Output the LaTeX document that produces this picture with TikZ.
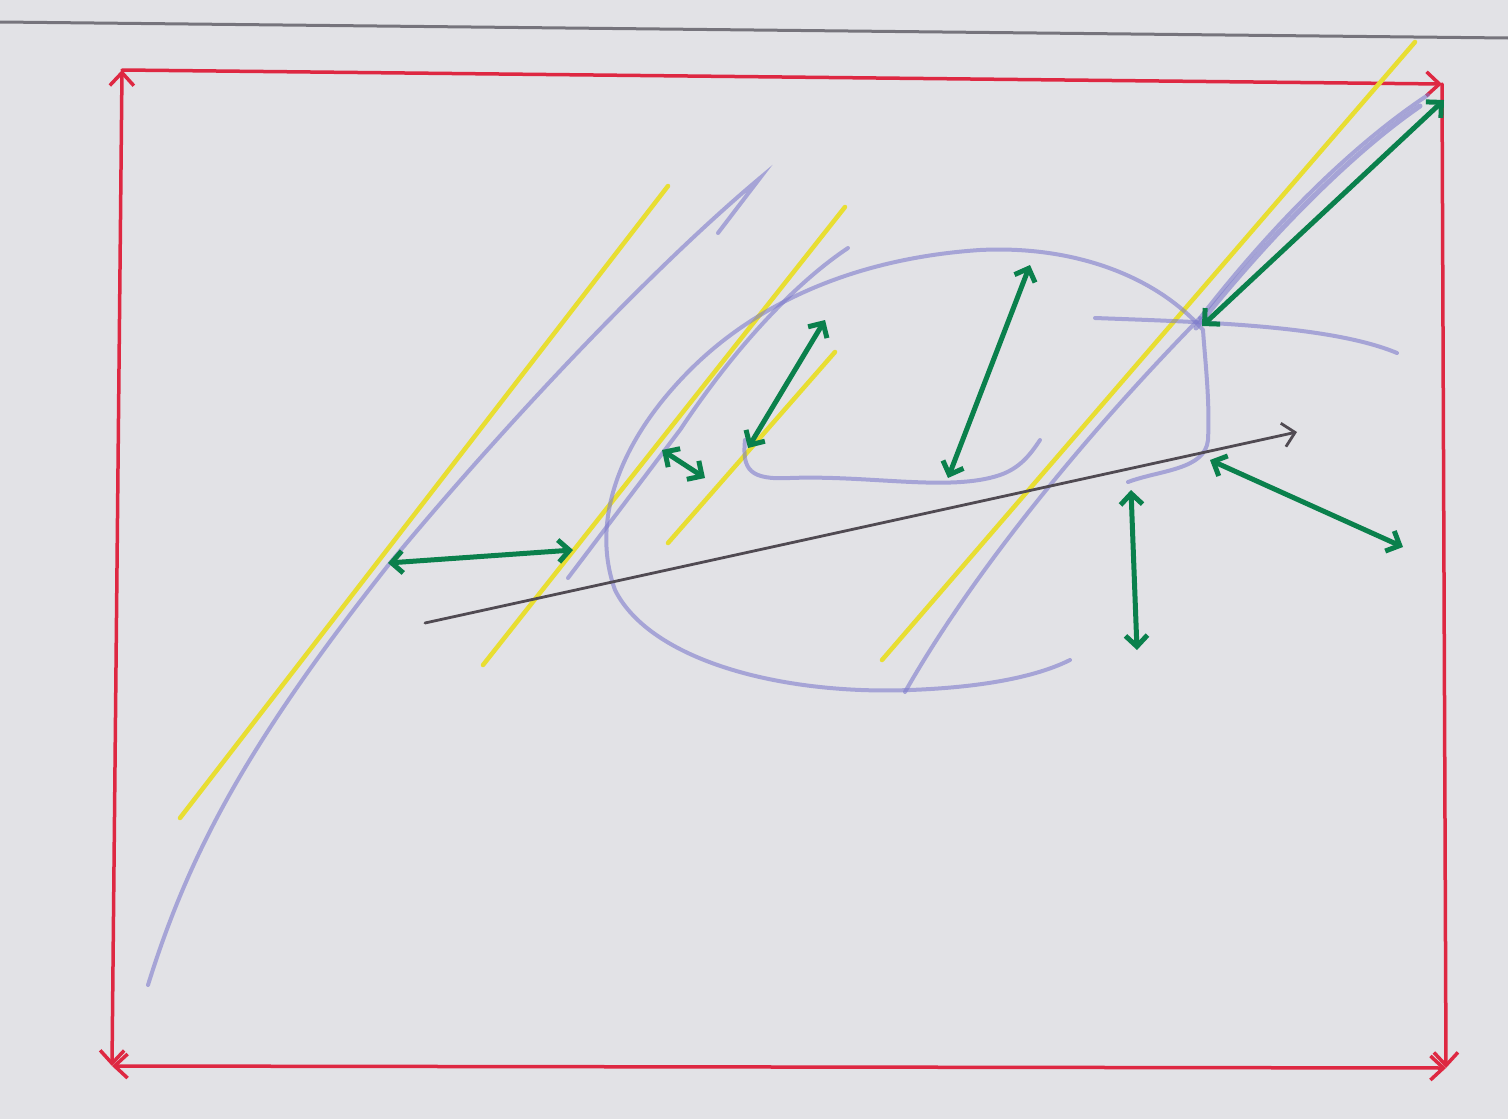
\documentclass[tikz,border=0pt]{standalone}
\usepackage{tikz}
\usetikzlibrary{arrows.meta}
\definecolor{paperGray}{RGB}{226,226,230}
\definecolor{edgeGray}{RGB}{118,116,124}
\definecolor{frameRed}{RGB}{222,40,66}
\definecolor{markYellow}{RGB}{232,222,50}
\definecolor{penBlue}{RGB}{126,124,204}
\definecolor{markGreen}{RGB}{10,128,76}
\definecolor{leadGray}{RGB}{80,74,82}

\begin{document}
\begin{tikzpicture}[x=1pt,y=-1pt,
    frame/.style={frameRed, line width=3.5pt, line cap=round},
    redtip/.style={-{Straight Barb[length=13pt,width=24pt]}},
    hilite/.style={markYellow, line width=4.5pt, line cap=round},
    penline/.style={penBlue, line width=4pt, opacity=0.6, line cap=round},
    gap/.style={markGreen, line width=5pt, line cap=round,
        {Straight Barb[length=11pt,width=22pt]}-{Straight Barb[length=11pt,width=22pt]}}]

% paper
\fill[paperGray] (0,0) rectangle (1508,1119);
\useasboundingbox (0,0) rectangle (1508,1119);
\draw[edgeGray, line width=3pt] (0,22) -- (1508,38);

% =========================
% 1. red frame
% =========================
\coordinate (tl) at (122,70);
\coordinate (tr) at (1442,84);
\coordinate (br) at (1446,1068);
\coordinate (bl) at (112,1066);

\draw[frame, {Straight Barb[length=13pt,width=24pt]}-{Straight Barb[length=13pt,width=24pt]}] (bl) -- (tl);
\draw[frame, redtip] (tl) -- (tr);
\draw[frame, redtip] (tr) -- (br);
\draw[frame, {Straight Barb[length=13pt,width=24pt]}-{Straight Barb[length=13pt,width=24pt]}] (bl) -- (br);

% =========================
% 2. yellow lines
% =========================
\draw[hilite] (180,818) -- (668,186);
\draw[hilite] (483,665) -- (845,207);
\draw[hilite] (668,543) -- (835,352);
\draw[hilite] (882,660) -- (1415,42);

% =========================
% 3. blue pen curves
% =========================
% long left stroke with hook
\draw[penline]
    (148,985) .. controls (190,850) and (250,740) .. (390,563)
    .. controls (500,430) and (650,270) .. (760,178) -- (718,233);

% second stroke
\draw[penline]
    (568,578) -- (680,430) .. controls (740,340) and (800,280) .. (848,248);

% big loop, upper part
\draw[penline]
    (1128,482) .. controls (1160,470) and (1205,470) .. (1208,440)
    .. controls (1210,400) and (1205,360) .. (1203,330)
    .. controls (1160,280) and (1080,245) .. (980,250)
    .. controls (860,258) and (760,300) .. (690,370)
    .. controls (620,440) and (590,520) .. (615,590)
    .. controls (650,660) and (780,695) .. (910,690)
    .. controls (990,687) and (1040,675) .. (1070,660);

% inner curve
\draw[penline]
    (745,440) .. controls (742,470) and (750,480) .. (790,478)
    .. controls (870,475) and (950,492) .. (1000,475)
    .. controls (1020,468) and (1030,455) .. (1040,440);

% stroke along the right yellow line
\draw[penline]
    (905,692) .. controls (980,560) and (1100,420) .. (1200,318);
\draw[penline]
    (1200,318) .. controls (1280,215) and (1360,140) .. (1428,95);
\draw[penline, line width=5pt]
    (1196,328) .. controls (1276,228) and (1356,150) .. (1420,106);

% crossing stroke
\draw[penline] (1095,318) .. controls (1200,322) and (1330,325) .. (1397,353);

% =========================
% 4. grey arrow
% =========================
\coordinate (axA) at (425,623);
\coordinate (axB) at (1297,432);
\draw[leadGray, line width=2.8pt, line cap=round,
    -{Straight Barb[length=12pt,width=24pt]}] (axA) -- (axB);

% =========================
% 5. green double arrows
% =========================
\draw[gap] (388,563) -- (573,550);
\draw[gap] (662,450) -- (705,478);
\draw[gap] (748,448) -- (825,320);
\draw[gap] (948,478) -- (1030,265);
\draw[gap] (1202,326) -- (1444,100);
\draw[gap] (1131,490) -- (1137,650);
\draw[gap] (1210,460) -- (1403,547);

\end{tikzpicture}
\end{document}
